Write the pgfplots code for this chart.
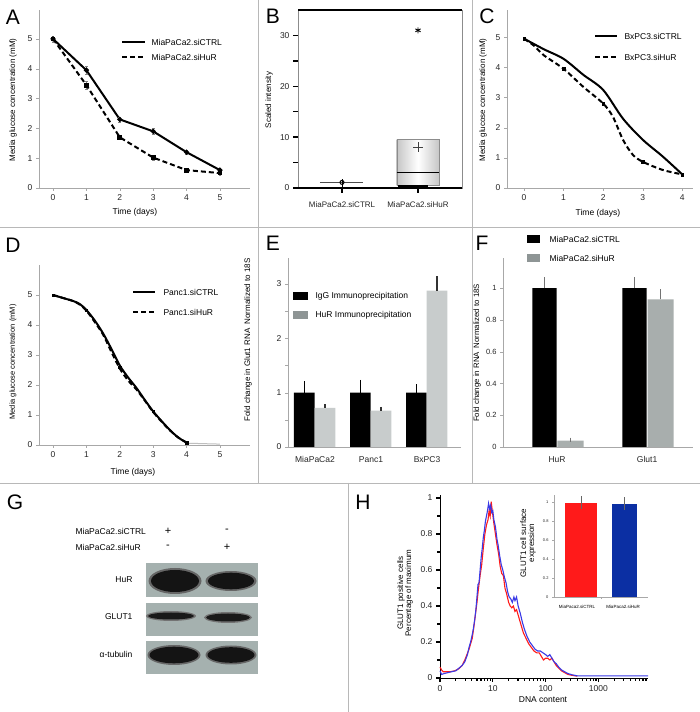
\documentclass[border=0pt]{standalone}
\usepackage{fontspec}
\setmainfont{Liberation Sans}
\usepackage{pgfplots}
\pgfplotsset{compat=1.18}
\definecolor{axgray}{HTML}{A8A8A8}
\definecolor{sepgray}{HTML}{B8B8B8}
\definecolor{lgray}{HTML}{C8CCCC}
\definecolor{mgray}{HTML}{8E9595}
\definecolor{fgray}{HTML}{A8AEAD}
\definecolor{blot}{HTML}{A5B1AF}
\definecolor{hred}{HTML}{FF1A1A}
\definecolor{hblue}{HTML}{3A3AE6}
\definecolor{ibblue}{HTML}{0B2FA3}
\newcommand{\fs}[1]{\fontsize{#1}{#1}\selectfont}
\pgfplotsset{
  panel/.style={scale only axis, anchor=south west, clip=false,
    axis lines*=left, axis line style={axgray}, tick style={axgray},
    tick align=outside, major tick length=3pt,
    tick label style={font=\fs{8.5}, text=black!85},
    /pgf/number format/assume math mode=true},
}
\begin{document}
\begin{tikzpicture}[x=1pt,y=1pt]
\useasboundingbox (0,0) rectangle (700,712);
\fill[white] (0,0) rectangle (700,712);
% separators
\draw[sepgray] (0,485) -- (700,485);
\draw[sepgray] (0,229) -- (700,229);
\draw[sepgray] (258,712) -- (258,229);
\draw[sepgray] (472,712) -- (472,229);
\draw[sepgray] (348,229) -- (348,0);

% ---------------- A
\begin{axis}[panel, at={(39pt,524pt)}, width=211pt, height=178pt,
  xmin=-0.42, xmax=5.9, ymin=0, ymax=5.97, xtick={0,...,5}, ytick={0,...,5}]
\addplot[black, line width=2pt, mark=*, mark size=1.4pt,
  error bars/.cd, y dir=both, y explicit, error bar style={black!50, line width=0.6pt}]
  coordinates {(0,5.0)+-(0,0.1) (1,3.95)+-(0,0.12) (2,2.3)+-(0,0.08) (3,1.9)+-(0,0.09) (4,1.2)+-(0,0.08) (5,0.6)+-(0,0.07)};
\addplot[black, line width=2pt, dash pattern=on 5pt off 3pt, mark=square*, mark size=1.4pt, mark options={solid},
  error bars/.cd, y dir=both, y explicit, error bar style={black!50, line width=0.6pt}]
  coordinates {(0,5.0)+-(0,0.1) (1,3.45)+-(0,0.12) (2,1.7)+-(0,0.08) (3,1.02)+-(0,0.08) (4,0.6)+-(0,0.07) (5,0.5)+-(0,0.07)};
\end{axis}
\node[font=\fs{21}] at (13,695) {A};
\node[font=\fs{8}, rotate=90] at (13,612) {Media glucose concentration (mM)};
\node[font=\fs{8.5}] at (135,500) {Time (days)};
\draw[black, line width=2pt] (122,670) -- (145,670);
\node[font=\fs{8.5}, anchor=west] at (148,670) {MiaPaCa2.siCTRL};
\draw[black, line width=2pt, dash pattern=on 5pt off 3pt] (122,655) -- (145,655);
\node[font=\fs{8.5}, anchor=west] at (148,655) {MiaPaCa2.siHuR};

% ---------------- B
\begin{axis}[panel, at={(298pt,524pt)}, width=164pt, height=178pt,
  axis lines=box, axis line style={black!45},
  xmin=0.421, xmax=2.579, ymin=0, ymax=35,
  ytick={0,10,20,30}, minor ytick={5,15,25}, ytick pos=left, xtick pos=bottom,
  tick style={black, line width=1.3pt}, major tick length=5pt, minor tick length=5pt,
  xtick={1,2}, xticklabels={MiaPaCa2.siCTRL, MiaPaCa2.siHuR},
  xticklabel style={font=\fs{8}, yshift=-5pt}]
\draw[black, line width=1.8pt] (rel axis cs:0,1) -- (rel axis cs:1,1);
\draw[black, line width=1.8pt] (rel axis cs:0,0) -- (rel axis cs:1,0);
\addplot[draw=black!45, left color=gray!45, right color=gray!45, middle color=white]
  coordinates {(1.72,0.5) (2.28,0.5) (2.28,9.5) (1.72,9.5)} -- cycle;
\addplot[black, line width=1.5pt] coordinates {(1.72,3) (2.28,3)};
\addplot[black, line width=2.8pt] coordinates {(1.74,0.35) (2.13,0.35)};
\addplot[only marks, mark=+, mark size=5pt, black!75, line width=0.8pt] coordinates {(2,8)};
\addplot[only marks, mark=asterisk, mark size=3pt, black, line width=0.9pt] coordinates {(2,31)};
\addplot[black!70, line width=1pt] coordinates {(0.71,1) (1.28,1)};
\addplot[black, line width=1pt] coordinates {(1,-0.6) (1,1.8)};
\addplot[only marks, mark=o, mark size=2pt, black, line width=1pt] coordinates {(1,1.1)};
\end{axis}
\node[font=\fs{21}] at (273,696) {B};
\node[font=\fs{8}, rotate=90] at (269,612) {Scaled intensity};

% ---------------- C
\begin{axis}[panel, at={(507pt,524pt)}, width=186pt, height=178pt,
  xmin=-0.43, xmax=4.27, ymin=0, ymax=5.9, xtick={0,...,4}, ytick={0,...,5}]
\addplot[black, line width=2pt, smooth]
  coordinates {(0,4.95) (0.5,4.6) (1,4.28) (1.5,3.75) (2,3.25) (2.5,2.3) (3,1.6) (3.5,1.05) (4,0.45)};
\addplot[black, line width=2pt, smooth, dash pattern=on 5pt off 3pt]
  coordinates {(0,4.95) (0.25,4.72) (0.5,4.4) (1,3.95) (1.5,3.35) (2,2.8) (2.25,2.35) (2.5,1.6) (2.75,1.1) (3,0.87) (3.5,0.6) (4,0.45)};
\addplot[only marks, black, mark=square*, mark size=1.3pt] coordinates {(0,4.95) (1,3.95) (2,2.8) (3,0.87) (4,0.45)};
\end{axis}
\node[font=\fs{21}] at (487,696) {C};
\node[font=\fs{8}, rotate=90] at (483,612) {Media glucose concentration (mM)};
\node[font=\fs{8.5}] at (598,499) {Time (days)};
\draw[black, line width=2pt] (595,676) -- (617,676);
\node[font=\fs{8.5}, anchor=west] at (621,676) {BxPC3.siCTRL};
\draw[black, line width=2pt, dash pattern=on 5pt off 3pt] (595,655) -- (617,655);
\node[font=\fs{8.5}, anchor=west] at (621,655) {BxPC3.siHuR};

% ---------------- D
\begin{axis}[panel, at={(39pt,267pt)}, width=211pt, height=180pt,
  xmin=-0.42, xmax=5.9, ymin=0, ymax=6.0, xtick={0,...,5}, ytick={0,...,5}]
\addplot[black!25, line width=1pt] coordinates {(4,0.06) (5,0.03)};
\addplot[black, line width=2pt, smooth]
  coordinates {(0,5.0) (0.3,4.9) (0.6,4.8) (0.8,4.7) (1,4.5) (1.25,4.15) (1.5,3.72) (1.75,3.2) (2,2.65) (2.25,2.25) (2.5,1.9) (2.75,1.5) (3,1.12) (3.25,0.8) (3.5,0.5) (3.75,0.25) (4,0.08)};
\addplot[black, line width=2pt, smooth, dash pattern=on 5pt off 3pt]
  coordinates {(0,5.0) (0.3,4.9) (0.6,4.8) (0.8,4.68) (1,4.48) (1.25,4.1) (1.5,3.68) (1.75,3.1) (2,2.55) (2.25,2.15) (2.5,1.85) (2.75,1.48) (3,1.1) (3.25,0.78) (3.5,0.49) (3.75,0.25) (4,0.08)};
\addplot[only marks, black, mark=square*, mark size=1.2pt] coordinates {(0,5.0) (1,4.5) (2,2.6) (3,1.12) (4,0.08)};
\end{axis}
\node[font=\fs{21}] at (13,467) {D};
\node[font=\fs{7.5}, rotate=90] at (13,350) {Media glucose concentration (mM)};
\node[font=\fs{8.5}] at (133,240) {Time (days)};
\draw[black, line width=2pt] (133,420) -- (155,420);
\node[font=\fs{8.5}, anchor=west] at (160,420) {Panc1.siCTRL};
\draw[black, line width=2pt, dash pattern=on 5pt off 3pt] (133,400) -- (155,400);
\node[font=\fs{8.5}, anchor=west] at (160,400) {Panc1.siHuR};

% ---------------- E
\begin{axis}[panel, at={(288pt,265pt)}, width=173pt, height=189pt,
  xmin=0.518, xmax=3.607, ymin=0, ymax=3.48,
  ytick={0,1,2,3}, minor ytick={0.5,1.5,2.5}, minor tick length=3pt,
  xtick={1,2,3}, xticklabels={MiaPaCa2,Panc1,BxPC3}, x tick style={draw=none},
  xticklabel style={yshift=-3pt}]
\addplot[ybar, bar width=0.37, bar shift=0, fill=black, draw=none,
  error bars/.cd, y dir=plus, y explicit, error bar style={black, line width=1.2pt}, error mark options={black, mark size=2pt, line width=1.2pt}]
  coordinates {(0.81,1)+-(0,0.17) (1.81,1)+-(0,0.2) (2.81,1)+-(0,0.12)};
\addplot[ybar, bar width=0.37, bar shift=0, fill=lgray, draw=none,
  error bars/.cd, y dir=plus, y explicit, error bar style={black!80, line width=1.2pt}, error mark options={black!80, mark size=2pt, line width=1.2pt}]
  coordinates {(1.18,0.72)+-(0,0.03) (2.18,0.67)+-(0,0.03) (3.18,2.88)+-(0,0.23)};
\end{axis}
\node[font=\fs{21}] at (273,469) {E};
\node[font=\fs{8}, rotate=90] at (248,372) {Fold change in Glut1 RNA\enspace Normalized to 18S};
\fill[black] (293,412) rectangle (308,420);
\node[font=\fs{8.5}, anchor=west] at (312,416) {IgG Immunoprecipitation};
\fill[mgray] (293,393) rectangle (308,401);
\node[font=\fs{8.5}, anchor=west] at (312,397) {HuR Immunoprecipitation};

% ---------------- F
\begin{axis}[panel, at={(503pt,265pt)}, width=190pt, height=189pt,
  tick label style={font=\fs{7.5}, text=black!85},
  xmin=0.4, xmax=2.51, ymin=0, ymax=1.19,
  ytick={0,0.2,0.4,0.6,0.8,1}, yticklabels={0,0.2,0.4,0.6,0.8,1},
  xtick={1,2}, xticklabels={HuR,Glut1}, x tick style={draw=none},
  extra x ticks={1.51}, extra x tick labels={}, extra x tick style={tick style={axgray}, major tick length=3pt},
  xticklabel style={font=\fs{8.5}, yshift=-3pt}]
\addplot[ybar, bar width=0.27, bar shift=0, fill=black, draw=none,
  error bars/.cd, y dir=plus, y explicit, error bar style={black!55, line width=0.6pt}, error mark options={black!55, mark size=2pt}]
  coordinates {(0.86,1)+-(0,0.055) (1.86,1)+-(0,0.055)};
\addplot[ybar, bar width=0.29, bar shift=0, fill=fgray, draw=none,
  error bars/.cd, y dir=plus, y explicit, error bar style={black!55, line width=0.6pt}, error mark options={black!55, mark size=2pt}]
  coordinates {(1.15,0.04)+-(0,0.006) (2.15,0.93)+-(0,0.05)};
\end{axis}
\node[font=\fs{21}] at (482,469) {F};
\node[font=\fs{7.8}, rotate=90] at (477,359) {Fold change in RNA\enspace Normalized to 18S};
\fill[black] (527,469) rectangle (540,477);
\node[font=\fs{8.5}, anchor=west] at (546,473) {MiaPaCa2.siCTRL};
\fill[mgray] (527,450) rectangle (540,458);
\node[font=\fs{8.5}, anchor=west] at (546,454) {MiaPaCa2.siHuR};

% ---------------- G
\node[font=\fs{21}] at (15,210) {G};
\node[font=\fs{8.5}, anchor=west] at (72,181) {MiaPaCa2.siCTRL};
\node[font=\fs{11}] at (168,181) {+};
\node[font=\fs{11}] at (227,181) {-};
\node[font=\fs{8.5}, anchor=west] at (72,165) {MiaPaCa2.siHuR};
\node[font=\fs{11}] at (168,165) {-};
\node[font=\fs{11}] at (227,165) {+};
\fill[blot] (146,115) rectangle (258,149);
\fill[blot] (146,76) rectangle (258,109);
\fill[blot] (146,38) rectangle (258,71);
\node[font=\fs{8.5}, anchor=east] at (136,132) {HuR};
\node[font=\fs{8.5}, anchor=east] at (136,95) {GLUT1};
\node[font=\fs{8.5}, anchor=east] at (136,58) {α-tubulin};
\fill[black!60] (175,131) ellipse (26.5 and 13);
\fill[black!92] (175,131) ellipse (24 and 11);
\fill[black!60] (231,131) ellipse (25.5 and 10);
\fill[black!92] (231,131) ellipse (23 and 8.3);
\fill[black!55] (171,96) ellipse (25 and 5);
\fill[black!90] (171,96) ellipse (23 and 3.5);
\fill[black!55] (228,94.5) ellipse (24 and 5.5);
\fill[black!90] (228,94.5) ellipse (22 and 4);
\fill[black!60] (174,57) ellipse (26.5 and 10);
\fill[black!92] (174,57) ellipse (24.5 and 8.3);
\fill[black!60] (231,57) ellipse (25.5 and 9.5);
\fill[black!92] (231,57) ellipse (23.5 and 7.8);

% ---------------- H
\begin{axis}[panel, at={(440pt,34pt)}, width=208pt, height=183pt,
  axis line style={black, line width=0.8pt}, tick style={black, line width=1.2pt},
  xmin=0, xmax=3.94, ymin=0, ymax=1.017,
  ytick={0,0.2,0.4,0.6,0.8,1}, yticklabels={0,0.2,0.4,0.6,0.8,1}, minor y tick num=1,
  xtick={0,1,2,3}, xticklabels={0,10,100,1000},
  minor xtick={0.301,0.477,0.602,0.699,0.778,0.845,0.903,0.954,1.301,1.477,1.602,1.699,1.778,1.845,1.903,1.954,2.301,2.477,2.602,2.699,2.778,2.845,2.903,2.954,3.301,3.477,3.602,3.699,3.778,3.845,3.903},
  major tick length=4pt, minor tick length=3pt]
\addplot[hred, line width=1.1pt] coordinates {
(0.00,0.06) (0.03,0.045) (0.06,0.035) (0.12,0.035) (0.20,0.035) (0.28,0.04) (0.35,0.05) (0.42,0.07)
(0.47,0.10) (0.51,0.13) (0.55,0.16) (0.58,0.19) (0.61,0.22) (0.64,0.28) (0.67,0.35) (0.70,0.42)
(0.73,0.50) (0.76,0.57) (0.79,0.63) (0.82,0.72) (0.85,0.80) (0.88,0.85) (0.91,0.88) (0.93,0.93)
(0.95,0.90) (0.97,0.98) (0.99,0.93) (1.02,0.86) (1.05,0.80) (1.08,0.74) (1.11,0.69) (1.14,0.62)
(1.17,0.58) (1.20,0.57) (1.23,0.50) (1.26,0.47) (1.30,0.42) (1.33,0.40) (1.36,0.39) (1.39,0.40)
(1.42,0.37) (1.45,0.38) (1.49,0.34) (1.53,0.30) (1.58,0.25) (1.63,0.22) (1.68,0.19) (1.73,0.17)
(1.78,0.15) (1.83,0.14) (1.88,0.14) (1.92,0.12) (1.96,0.10) (2.00,0.11) (2.04,0.11) (2.08,0.10)
(2.12,0.11) (2.16,0.09) (2.20,0.07) (2.25,0.055) (2.30,0.04) (2.36,0.03) (2.42,0.02) (2.50,0.015) (2.60,0.01)};
\addplot[hblue, line width=1.1pt] coordinates {
(0.00,0.04) (0.03,0.02) (0.08,0.025) (0.15,0.03) (0.22,0.035) (0.30,0.04) (0.36,0.055) (0.42,0.07)
(0.47,0.09) (0.52,0.13) (0.55,0.17) (0.58,0.20) (0.61,0.24) (0.63,0.27) (0.66,0.33) (0.68,0.38)
(0.70,0.45) (0.72,0.52) (0.74,0.53) (0.76,0.60) (0.78,0.67) (0.80,0.72) (0.82,0.78) (0.84,0.82)
(0.86,0.87) (0.88,0.90) (0.90,0.93) (0.92,0.97) (0.94,0.94) (0.96,0.96) (0.98,0.92) (1.00,0.93)
(1.02,0.88) (1.05,0.84) (1.08,0.77) (1.10,0.74) (1.13,0.68) (1.16,0.63) (1.19,0.60) (1.22,0.56)
(1.25,0.53) (1.28,0.48) (1.31,0.45) (1.34,0.44) (1.37,0.42) (1.40,0.45) (1.42,0.43) (1.45,0.45)
(1.48,0.40) (1.52,0.36) (1.56,0.31) (1.60,0.27) (1.65,0.23) (1.70,0.20) (1.75,0.18) (1.80,0.16)
(1.85,0.15) (1.90,0.15) (1.95,0.14) (2.00,0.13) (2.04,0.12) (2.08,0.13) (2.12,0.11) (2.16,0.09)
(2.20,0.08) (2.25,0.06) (2.30,0.045) (2.36,0.035) (2.42,0.025) (2.50,0.018) (2.60,0.012) (2.80,0.012)
(3.20,0.012) (3.94,0.012)};
\end{axis}
\node[font=\fs{21}] at (363,210) {H};
\node[font=\fs{8}, rotate=90, align=center] at (405,119) {GLUT1 positive cells\\Percentage of maximum};
\node[font=\fs{8.5}] at (543,12) {DNA content};

% inset
\begin{axis}[panel, at={(554pt,115pt)}, width=94pt, height=102pt,
  xmin=0.379, xmax=2.54, ymin=0, ymax=1.07,
  ytick={0,0.2,0.4,0.6,0.8,1}, yticklabels={0,0.2,0.4,0.6,0.8,1},
  yticklabel style={font=\fs{4}}, major tick length=2pt,
  xtick={1.46}, xticklabels={}]
\addplot[ybar, bar width=0.74, bar shift=0, fill=hred, draw=none,
  error bars/.cd, y dir=both, y explicit, error bar style={black!60, line width=0.5pt}, error mark options={black!60, mark size=1.5pt}]
  coordinates {(1,0.99)+-(0,0.05)};
\addplot[ybar, bar width=0.57, bar shift=0, fill=ibblue, draw=none,
  error bars/.cd, y dir=both, y explicit, error bar style={black!60, line width=0.5pt}, error mark options={black!60, mark size=1.5pt}]
  coordinates {(2,0.98)+-(0,0.05)};
\end{axis}
\node[font=\fs{8}, rotate=90, align=center] at (528,169) {GLUT1 cell surface\\expression};
\node[font=\fs{4.5}] at (577,105) {MiaPaca2.siCTRL};
\node[font=\fs{4.5}] at (623,105) {MiaPaca2.siHuR};
\end{tikzpicture}
\end{document}
